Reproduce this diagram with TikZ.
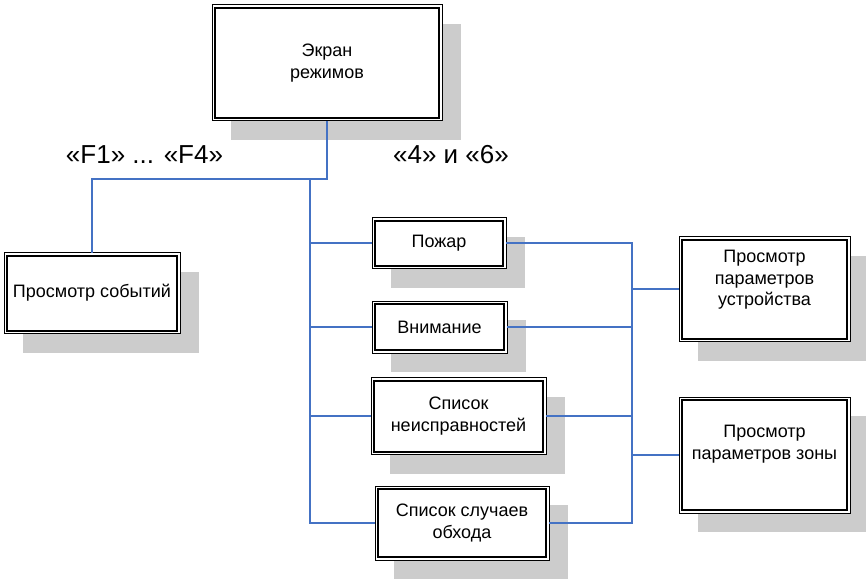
\documentclass[tikz,border=0pt]{standalone}
\usepackage{fontspec}
\setmainfont{Liberation Sans}
\usetikzlibrary{shadows}
\definecolor{shadowc}{RGB}{204,204,204}
\definecolor{linkc}{RGB}{68,114,196}
\tikzset{
  dbox/.style={draw=black, line width=1pt, fill=white, inner sep=0pt, outer sep=0pt,
    align=center, font=\fontsize{18}{21.5}\selectfont,
    drop shadow={shadow xshift=19pt, shadow yshift=-19pt, fill=shadowc, opacity=1},
    path picture={\draw[line width=2pt]
      ([shift={(3pt,-3pt)}]path picture bounding box.north west) rectangle
      ([shift={(-3pt,3pt)}]path picture bounding box.south east);}},
  conn/.style={draw=linkc, line width=1.3pt},
  keylabel/.style={font=\fontsize{26}{30}\selectfont, anchor=base, inner sep=0pt}
}
\begin{document}
\begin{tikzpicture}[x=1pt, y=-1pt]
\useasboundingbox (0,0) rectangle (866,580);
\node[dbox, minimum width=230pt, minimum height=116pt] (top) at (327,63) {Экран\\режимов};
\node[dbox, minimum width=176pt, minimum height=81pt] (ev) at (92,293) {Просмотр событий};
\node[dbox, minimum width=134pt, minimum height=51pt] (fire) at (439,243) {Пожар};
\node[dbox, minimum width=135pt, minimum height=52pt] (att) at (439.5,327) {Внимание};
\node[dbox, minimum width=175pt, minimum height=77pt] (flt) at (458.5,416) {Список\\неисправностей};
\node[dbox, minimum width=174pt, minimum height=74pt] (byp) at (462,523) {Список случаев\\обхода};
\node[dbox, minimum width=171pt, minimum height=105pt,
  label={[name=devt, yshift=9pt, align=center, font=\fontsize{18}{21.5}\selectfont]center:Просмотр\\параметров\\устройства}] (dev) at (764.5,289) {};
\node[dbox, minimum width=171pt, minimum height=116pt,
  label={[name=zonet, yshift=11pt, align=center, font=\fontsize{18}{21.5}\selectfont]center:Просмотр\\параметров зоны}] (zone) at (764.5,455) {};

\node[keylabel] (lf) at (144.5,164) {«F1» ... «F4»};
\node[keylabel] (lr) at (451,164) {«4» и «6»};

\coordinate (busy) at (0,179);
\coordinate (lt) at (310,179);
\coordinate (rt) at (632,0);

\draw[conn] (top.south) -- (top.south |- busy) -| (ev.north);
\draw[conn] (lt) |- (byp.west);
\draw[conn] (lt |- fire.west) -- (fire.west);
\draw[conn] (lt |- att.west) -- (att.west);
\draw[conn] (lt |- flt.west) -- (flt.west);
\draw[conn] (fire.east) -- (fire.east -| rt) -- (byp.east -| rt) -- (byp.east);
\draw[conn] (att.east) -- (att.east -| rt);
\draw[conn] (flt.east) -- (flt.east -| rt);
\draw[conn] (rt |- dev.west) -- (dev.west);
\draw[conn] (rt |- zone.west) -- (zone.west);
\end{tikzpicture}
\end{document}
